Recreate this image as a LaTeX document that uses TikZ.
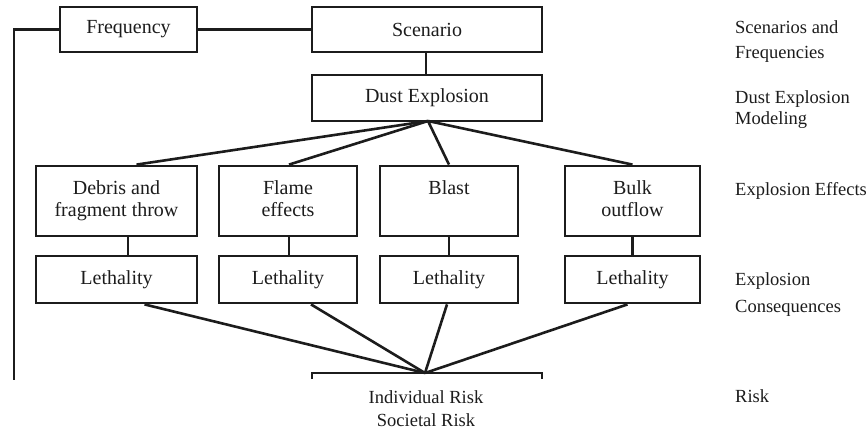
\documentclass[tikz,border=0pt]{standalone}
\usepackage{fontspec}
\setmainfont{Liberation Serif}
\definecolor{ink}{HTML}{1C1C1C}
\begin{document}
\begin{tikzpicture}[x=1pt, y=-1pt,
  txt/.style={font=\fontsize{18.5}{22}\selectfont, text=ink},
  box/.style={font=\fontsize{20}{22.5}\selectfont, text=ink, draw=ink, line width=2.8pt, inner sep=0pt, align=center},
  topbox/.style={box, minimum height=45pt},
  effbox/.style={box, minimum height=70pt},
  lethbox/.style={box, minimum height=47pt},
  wire/.style={draw=ink, line width=2.6pt},
  label/.style={txt, anchor=base west, inner sep=0pt}]
\useasboundingbox (0,0) rectangle (866,431);

% top row
\node[topbox, minimum width=137pt] (freq) at (128.5,29.5) {Frequency};
\node[topbox, minimum width=230pt] (scen) at (427,29.5) {Scenario};
\node[box, minimum width=230pt, minimum height=46pt] (dust) at (427,98) {Dust Explosion};

% explosion effects
\node[effbox, minimum width=161pt] (debris) at (116.5,201) {Debris and\strut\\fragment throw\strut};
\node[effbox, minimum width=138pt] (flame) at (288,201) {Flame\strut\\effects\strut};
\node[effbox, minimum width=138pt] (blast) at (449,201) {Blast\strut\\\strut};
\node[effbox, minimum width=135pt] (bulk) at (632.5,201) {Bulk\strut\\outflow\strut};

% consequences
\node[lethbox, minimum width=161pt] (l1) at (116.5,279.5) {Lethality};
\node[lethbox, minimum width=138pt] (l2) at (288,279.5) {Lethality};
\node[lethbox, minimum width=138pt] (l3) at (449,279.5) {Lethality};
\node[lethbox, minimum width=135pt] (l4) at (632.5,279.5) {Lethality};

% risk
\node[txt, align=center, inner sep=0pt, font=\fontsize{18.5}{23}\selectfont] (risk) at (426,409) {Individual Risk\\Societal Risk};
\coordinate (rl) at (312,373);
\coordinate (rr) at (542,373);
\coordinate (hub) at (425,373);
\draw[wire] ([yshift=-6pt]rl) -- (rl) -- (rr) -- ([yshift=-6pt]rr);

% frequency feedback line
\coordinate (fcorner) at (14,29.5);
\coordinate (fend) at (14,380);
\draw[wire] (freq.west) -- (fcorner) -- (fend);
\draw[wire] (freq.east) -- (scen.west);
\draw[wire] ([xshift=-1pt]scen.south) -- ([xshift=-1pt]dust.north);

% fan-out from the explosion
\coordinate (dhub) at (428,121);
\draw[wire] (dhub) -- ([xshift=20pt]debris.north);
\draw[wire] (dhub) -- ([xshift=1pt]flame.north);
\draw[wire] (dhub) -- (blast.north);
\draw[wire] (dhub) -- (bulk.north);

% effects to lethality
\draw[wire] ([xshift=11.5pt]debris.south) -- ([xshift=11.5pt]l1.north);
\draw[wire] ([xshift=1pt]flame.south) -- ([xshift=1pt]l2.north);
\draw[wire] (blast.south) -- (l3.north);
\draw[wire] (bulk.south) -- (l4.north);

% fan-in to risk
\draw[wire] ([xshift=28pt]l1.south) -- (hub);
\draw[wire] ([xshift=23pt]l2.south) -- (hub);
\draw[wire] ([xshift=-2pt]l3.south) -- (hub);
\draw[wire] ([xshift=-5pt]l4.south) -- (hub);

% level labels
\node[label] (lab1) at (735,33) {Scenarios and};
\node[label] (lab2) at (735,58) {Frequencies};
\node[label] (lab3) at (735,103) {Dust Explosion};
\node[label] (lab4) at (735,124) {Modeling};
\node[label] (lab5) at (735,195) {Explosion Effects};
\node[label] (lab6) at (735,285) {Explosion};
\node[label] (lab7) at (735,312) {Consequences};
\node[label] (lab8) at (735,402) {Risk};
\end{tikzpicture}
\end{document}
